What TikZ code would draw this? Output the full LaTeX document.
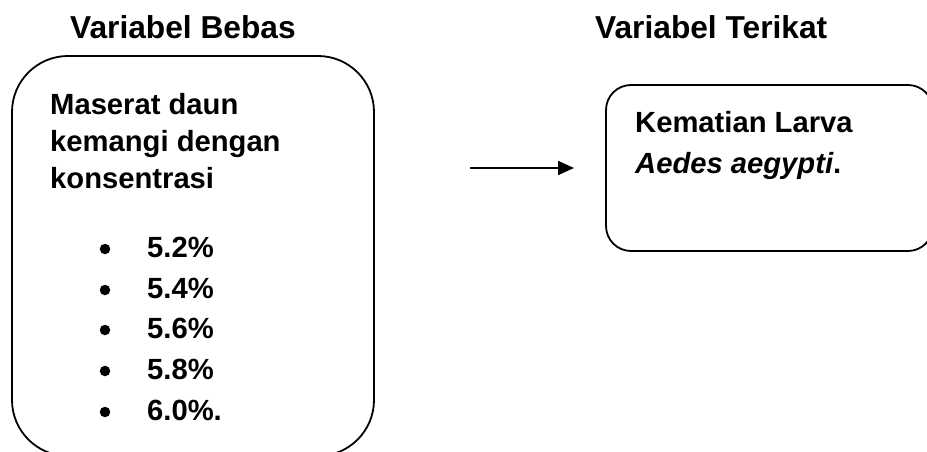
\documentclass[tikz,border=0pt]{standalone}
\usepackage{fontspec}
\setmainfont{Liberation Sans}
\usetikzlibrary{arrows.meta}
\begin{document}
\begin{tikzpicture}[x=1pt,y=-1pt,
  box/.style={draw, line width=1.8pt},
  title/.style={anchor=base west, inner sep=0pt, font=\fontsize{31.7}{38}\selectfont\bfseries},
  body/.style={anchor=base west, inner sep=0pt, font=\fontsize{29.2}{37}\selectfont\bfseries},
  bul/.style={circle, fill, draw=none, inner sep=0pt, minimum size=10.5pt},
  link/.style={line width=1.8pt, -{Triangle[length=16pt,width=14pt]}}]
\useasboundingbox (0,0) rectangle (927,452);
% boxes
\draw[box, rounded corners=56pt] (12,56) rectangle (374,456);
\draw[box, rounded corners=25pt] (606,85) rectangle (933,251);
% titles
\node[title] (t1) at (70,39) {Variabel Bebas};
\node[title] (t2) at (595,39) {Variabel Terikat};
% left text
\node[body] (l1) at (50,114) {Maserat daun};
\node[body] (l2) at (50,151) {kemangi dengan};
\node[body] (l3) at (50,188) {konsentrasi};
\foreach \y/\v [count=\i] in {257/5.2\%, 298/5.4\%, 338/5.6\%, 379/5.8\%, 420/6.0\%.}{
  \node[bul] (b\i) at (105,\y-8) {};
  \node[body] (v\i) at (147,\y) {\v};
}
% right text
\node[body] (r1) at (635,132) {Kematian Larva};
\node[body] (r2) at (635,173) {\textit{Aedes aegypti}.};
% arrow
\coordinate (a1) at (470,168);
\coordinate (a2) at (574,168);
\draw[link] (a1) -- (a2);
\end{tikzpicture}
\end{document}
